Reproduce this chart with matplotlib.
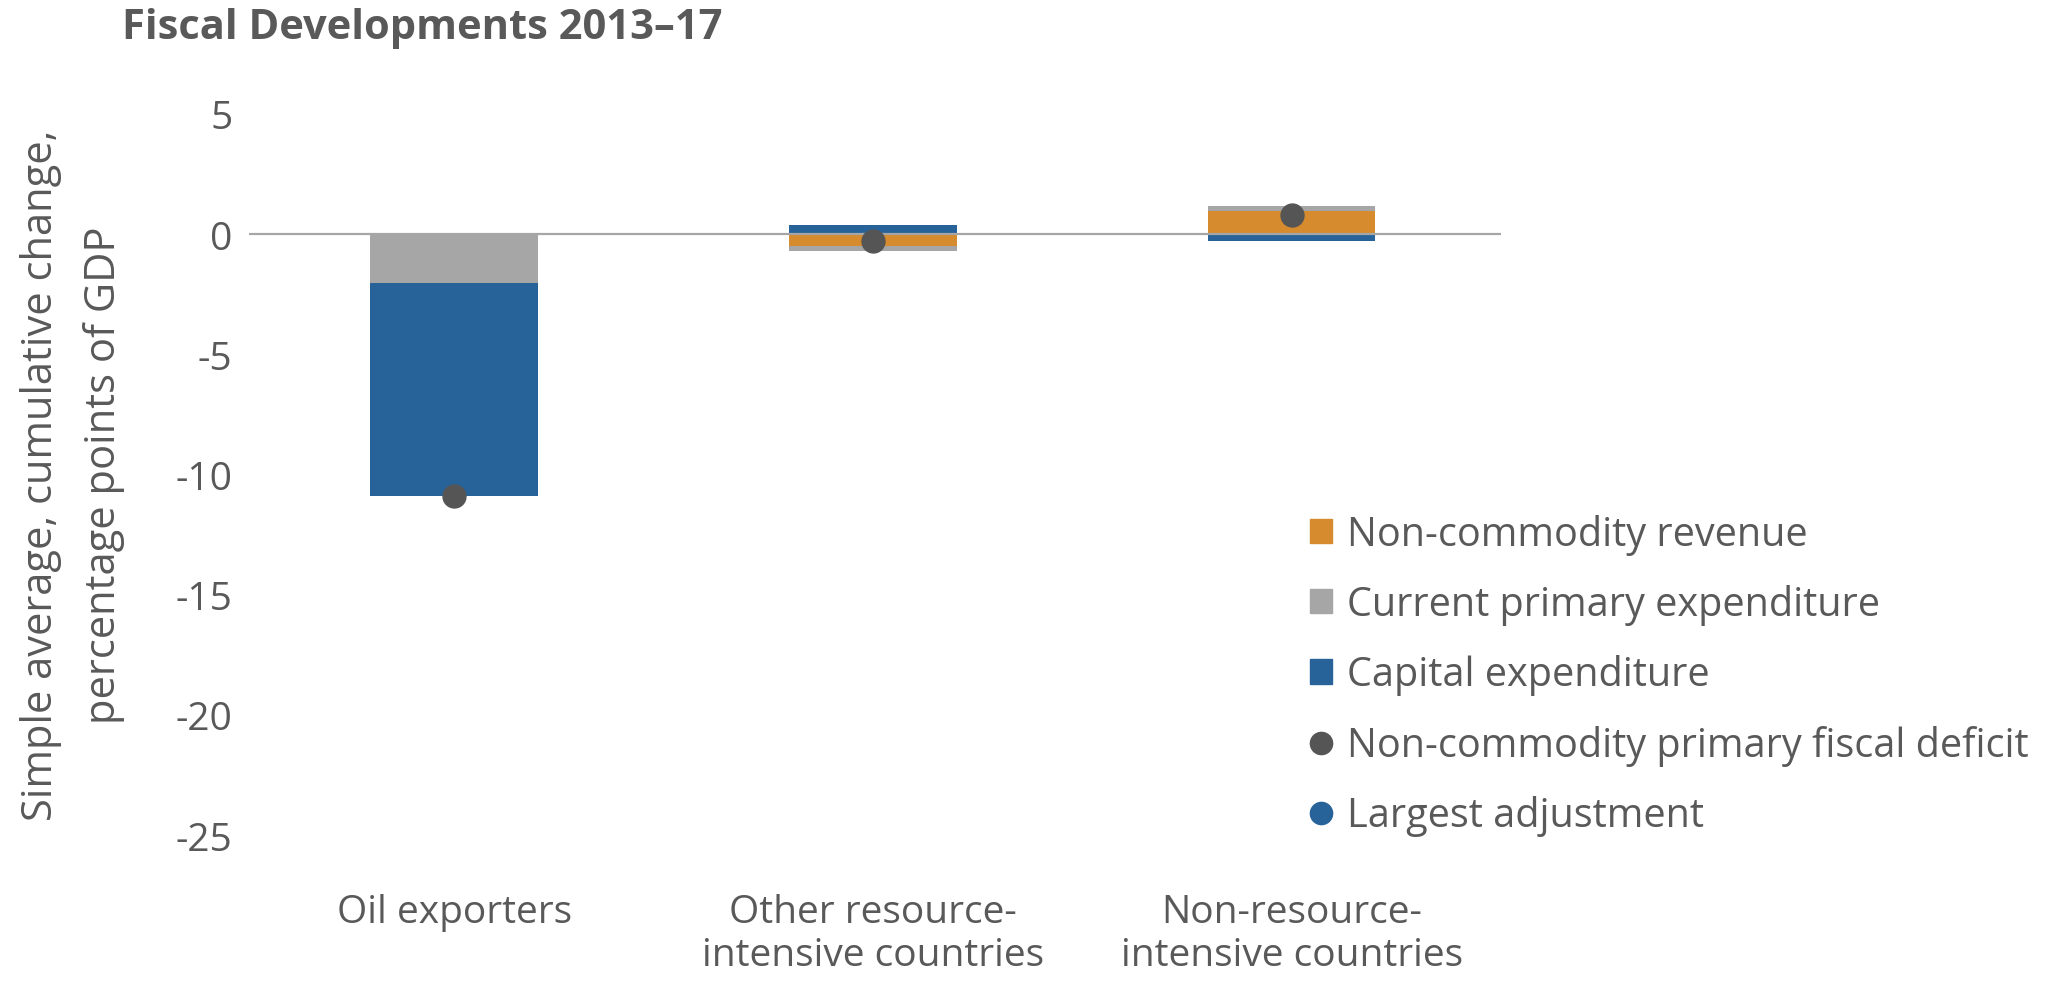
import matplotlib.pyplot as plt
import numpy as np
from matplotlib.lines import Line2D
from matplotlib.patches import Patch

plt.rcParams['font.family'] = ['Open Sans', 'DejaVu Sans']
plt.rcParams['axes.unicode_minus'] = False

# dane: skumulowana zmiana 2013-17, pp PKB
groups = ['Oil exporters', 'Other resource-\nintensive countries', 'Non-resource-\nintensive countries']
revenue = [0.0, -0.5, 0.95]
current_exp = [-2.05, -0.2, 0.2]
capital_exp = [-8.85, 0.4, -0.3]
deficit = [-10.9, -0.3, 0.8]

c_orange = '#D58B2E'
c_gray = '#A6A6A6'
c_blue = '#276399'
c_dot = '#555555'
c_text = '#595959'

fig = plt.figure(figsize=(20.54, 10.04), dpi=100)
ax = fig.add_axes([0.1212, 0.1673, 0.6096, 0.7182])

x = np.arange(len(groups))
series = [(revenue, c_orange), (current_exp, c_gray), (capital_exp, c_blue)]

# stosowanie jak w Excelu: dodatnie w gore, ujemne w dol
pos = np.zeros(len(groups))
neg = np.zeros(len(groups))
for vals, col in series:
    v = np.array(vals)
    bottom = np.where(v >= 0, pos, neg)
    ax.bar(x, v, 0.4, bottom=bottom, color=col, zorder=2)
    pos = pos + np.where(v >= 0, v, 0)
    neg = neg + np.where(v < 0, v, 0)

ax.axhline(0, color=c_gray, linewidth=1.6, zorder=3)
ax.plot(x, deficit, 'o', color=c_dot, markersize=16.5, zorder=4)

ax.set_xlim(-0.49, 2.5)
ax.set_ylim(-25, 5)
ax.set_yticks(np.arange(-25, 6, 5))
ax.set_xticks(x)
ax.set_xticklabels(groups, linespacing=1.15)
for s in ax.spines.values():
    s.set_visible(False)
ax.tick_params(axis='y', length=0, pad=12, labelsize=28, labelcolor=c_text)
ax.tick_params(axis='x', length=0, pad=42, labelsize=28, labelcolor=c_text)

ax.set_ylabel('Simple average, cumulative change,\npercentage points of GDP',
              fontsize=30, color=c_text, labelpad=36, linespacing=1.65)

fig.text(0.0594, 0.972, 'Fiscal Developments 2013\u201317', fontsize=30,
         fontweight='bold', color=c_text, va='center')

handles = [
    Patch(color=c_orange, label='Non-commodity revenue'),
    Patch(color=c_gray, label='Current primary expenditure'),
    Patch(color=c_blue, label='Capital expenditure'),
    Line2D([], [], marker='o', linestyle='none', color=c_dot, markersize=16,
           label='Non-commodity primary fiscal deficit'),
    Line2D([], [], marker='o', linestyle='none', color=c_blue, markersize=16,
           label='Largest adjustment'),
]
leg = fig.legend(handles=handles, loc='upper left', bbox_to_anchor=(0.630, 0.503),
                 frameon=False, fontsize=28.5, handlelength=0.57, handleheight=0.57,
                 handletextpad=0.38, labelspacing=0.74, borderaxespad=0)
for t in leg.get_texts():
    t.set_color(c_text)

fig.savefig('out.png', dpi=100)
